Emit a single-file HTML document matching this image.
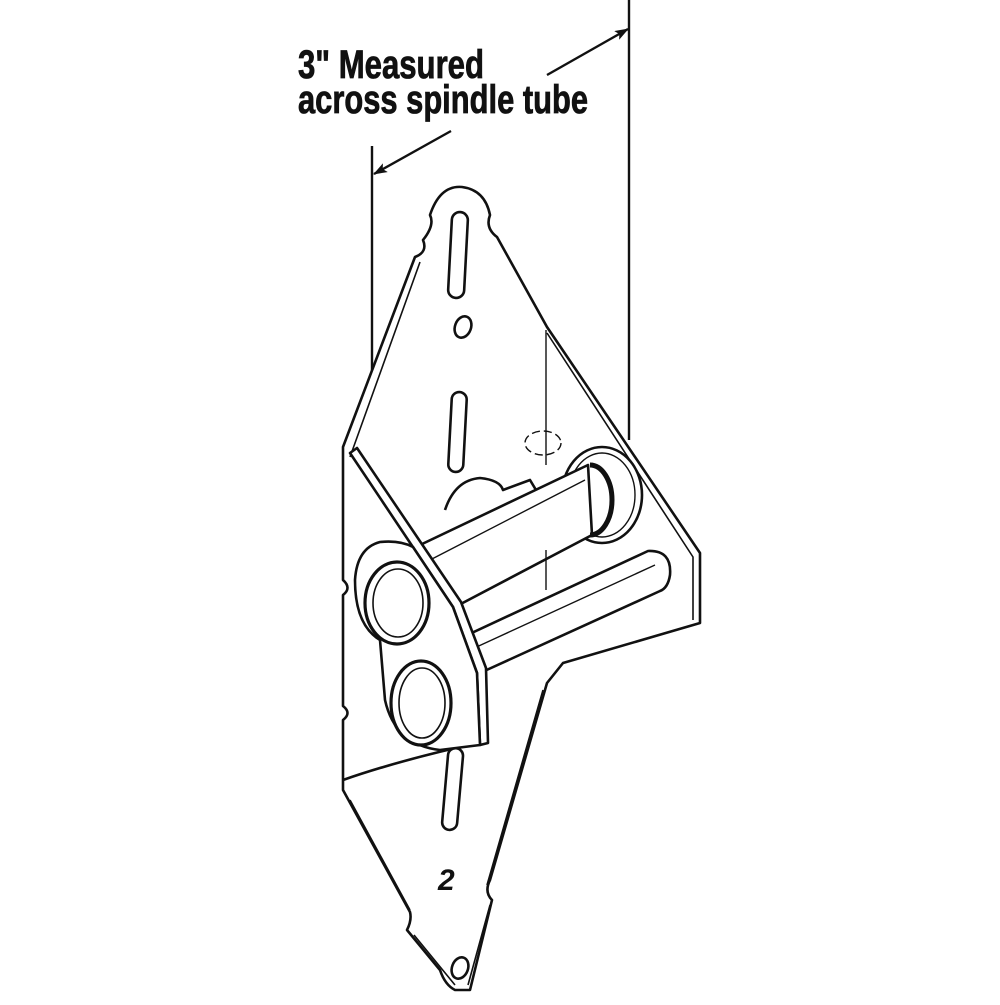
<!DOCTYPE html>
<html><head><style>html,body{margin:0;padding:0;background:#fff}</style></head>
<body>
<svg width="1000" height="1000" viewBox="0 0 1000 1000" xmlns="http://www.w3.org/2000/svg">
<defs>
<marker id="ah" markerWidth="14" markerHeight="10" refX="13" refY="5" orient="auto" markerUnits="userSpaceOnUse">
<path d="M0,0 L14,5 L0,10 L3,5 Z" fill="#111"/>
</marker>
</defs>
<rect width="1000" height="1000" fill="#fff"/>
<g font-family="'Liberation Sans', sans-serif" font-weight="bold" fill="#111" stroke="#111" stroke-width="0.8">
<text x="298" y="78" font-size="40" textLength="186" lengthAdjust="spacingAndGlyphs">3" Measured</text>
<text x="298" y="113" font-size="40" textLength="290" lengthAdjust="spacingAndGlyphs">across spindle tube</text>
</g>
<g stroke="#111" stroke-width="2.4" fill="none">
<line x1="629" y1="0" x2="629" y2="440"/>
<line x1="372" y1="146" x2="372" y2="540"/>
<line x1="547" y1="75" x2="628" y2="29" marker-end="url(#ah)"/>
<line x1="451" y1="131" x2="374" y2="174" marker-end="url(#ah)"/>
</g>
<g stroke="#111" stroke-width="2.6" fill="#fff" stroke-linejoin="round">
<path d="M547,327 L700,553 L700,623 L563,663 L547,683 L490,880 Q484,892 492,900 L470,990 L455,990 Q445,985 440,970 L407,930 Q412,920 410,912 L343,790 L343,720 Q352,713 343,706 L343,595 Q352,588 343,580 L343,447 L415,257 Q428,252 423,240 Q435,225 430,215 Q440,185 462,187 Q485,190 490,215 Q485,228 497,237 Z"/>
<path d="M547,333 L693,557 L693,620" fill="none" stroke-width="1.6"/>
<path d="M420,262 L350,457" fill="none" stroke-width="1.6"/>
<path d="M350,800 L410,910 M414,935 L455,985" fill="none" stroke-width="1.6"/>
<path d="M543,690 L487,885 M490,905 L468,985" fill="none" stroke-width="1.6"/>
<path d="M343,780 Q400,760 482,742" fill="none"/>
<rect x="450" y="212" width="16" height="86" rx="8" transform="rotate(3 458 255)"/>
<rect x="450" y="392" width="15" height="80" rx="7.5" transform="rotate(3 458 432)"/>
<rect x="445" y="748" width="15" height="82" rx="7.5" transform="rotate(5 452 790)"/>
<ellipse cx="463" cy="327" rx="8" ry="11" transform="rotate(20 463 327)"/>
<ellipse cx="460" cy="968" rx="8" ry="11" transform="rotate(20 460 968)"/>
<!-- back lobe / knuckle -->
<path d="M445,510 Q455,480 480,478 Q500,480 503,490 L530,480 L536,490" fill="none"/>
<!-- lower tube -->
<path d="M463,637 L648,551 Q672,550 670,575 Q668,588 660,591 L480,673 Z"/>
<line x1="470" y1="650" x2="655" y2="565" stroke-width="1.4"/>
<!-- right washer -->
<ellipse cx="602" cy="495" rx="40" ry="48"/>
<ellipse cx="602" cy="495" rx="33" ry="42" fill="none" stroke-width="1.4"/>
<!-- upper tube -->
<path d="M420,545 L588,465 L592,535 L455,607 Z"/>
<line x1="430" y1="560" x2="585" y2="480" stroke-width="1.4"/>
<path d="M590,465 A22,35 0 0,1 590,535" fill="none" stroke-width="5"/>
<!-- front flange -->
<path d="M350,453 L453,607 L477,673 L480,745 L488,743 L486,668 L461,602 L357,448 Z"/>
<path d="M413,547 L453,607 L477,673 L480,745 L440,750 Q395,745 385,700 L380,640 Q355,625 355,580 Q357,548 380,542 Q400,540 413,547 Z"/>
<ellipse cx="397" cy="603" rx="32" ry="41" stroke-width="3.2"/>
<ellipse cx="398" cy="603" rx="25" ry="34" fill="none" stroke-width="1.6"/>
<ellipse cx="421" cy="703" rx="30" ry="42" stroke-width="3.2"/>
<ellipse cx="422" cy="703" rx="23" ry="35" fill="none" stroke-width="1.6"/>
</g>
<g stroke="#111" stroke-width="1.4" fill="none">
<line x1="546" y1="330" x2="546" y2="465"/>
<line x1="546" y1="550" x2="546" y2="590"/>
<ellipse cx="543" cy="443" rx="18" ry="12" stroke-dasharray="8 4"/>
</g>
<text x="438" y="890" font-family="'Liberation Sans', sans-serif" font-weight="bold" font-style="italic" font-size="30" fill="#111">2</text>
</svg>
</body></html>
